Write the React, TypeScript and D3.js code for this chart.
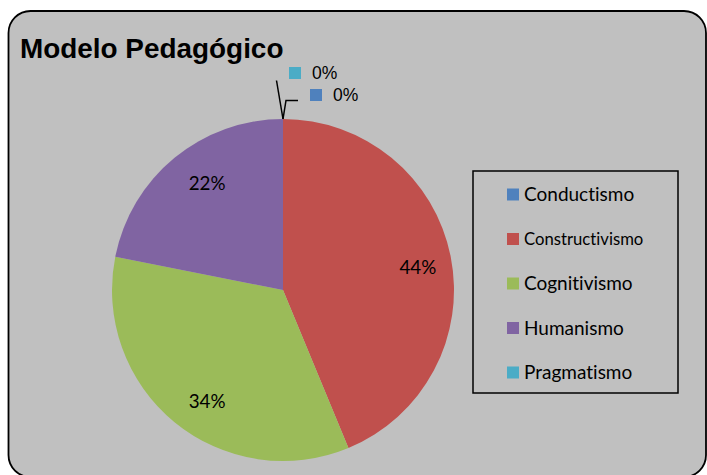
import React from "react";
import * as d3 from "d3";

const categories = ["Conductismo", "Constructivismo", "Cognitivismo", "Humanismo", "Pragmatismo"];
const counts = [0, 14, 11, 7, 0];
const colors = ["#4F81BD", "#C0504D", "#9BBB59", "#8064A2", "#4BACC6"];
const title = "Modelo Pedagógico";
const legendFontSizes = [19, 16.7, 19, 19, 19];

const W = 707;
const H = 475;
const cx = 283;
const cy = 290;
const R = 171;

export default function App() {
  const total = d3.sum(counts);
  const pie = d3.pie<number>().sort(null).value((d) => d)(counts);
  const arc = d3.arc<d3.PieArcDatum<number>>().innerRadius(0).outerRadius(R);
  const labelArc = d3.arc<d3.PieArcDatum<number>>().innerRadius(R * 0.81).outerRadius(R * 0.81);
  const fmt = (v: number) => `${Math.round((v / total) * 100)}%`;

  const zeroLabels = pie
    .map((p, i) => ({ p, i }))
    .filter(({ p }) => p.value === 0);

  const legendX = 473;
  const legendY = 171;
  const legendW = 205;
  const legendH = 222;
  const rowY = d3.scalePoint<string>().domain(categories).range([legendY + 23.5, legendY + 201.5]);
  const noLig = { fontVariantLigatures: "none" as const, fontFeatureSettings: '"liga" 0, "clig" 0' };

  return (
    <svg
      width={W}
      height={H}
      style={{ position: "absolute", left: 0, top: 0, background: "#ffffff" }}
    >
      <rect x={8.5} y={11} width={697.5} height={466} rx={22} ry={22} fill="#C0C0C0" stroke="#000" strokeWidth={1.8} />
      <text x={20} y={57.5} fontFamily="Liberation Sans, Arial, sans-serif" fontWeight="bold" fontSize={27.9} fill="#000">
        {title}
      </text>
      <g transform={`translate(${cx},${cy})`}>
        {pie.map((p, i) => (
          <path key={i} d={arc(p) || ""} fill={colors[i]} />
        ))}
        {pie.map((p, i) => {
          if (p.value === 0) return null;
          const [x, y] = labelArc.centroid(p);
          const dx = x < 0 ? 12 : -1;
          const dy = x > 0 ? 4 : y > 0 ? 4 : 0;
          return (
            <text
              key={"l" + i}
              x={x + dx}
              y={y + dy}
              dy="0.35em"
              textAnchor="middle"
              fontFamily="Lato, sans-serif"
              fontSize={18.8}
              fill="#000"
            >
              {fmt(p.value)}
            </text>
          );
        })}
        {zeroLabels.map(({ p, i }) => {
          const ang = p.startAngle;
          const ox = Math.sin(ang) * R;
          const oy = -Math.cos(ang) * R;
          const isLast = i === categories.length - 1;
          const d = isLast
            ? `M${ox},${oy} L${ox - 6.5},${oy - 38.5}`
            : `M${ox},${oy} L${ox + 3},${oy - 18.5} L${ox + 15},${oy - 18.5}`;
          const sqX = isLast ? ox + 6 : ox + 27;
          const sqY = isLast ? oy - 52 : oy - 30;
          return (
            <g key={"z" + i}>
              <path d={d} fill="none" stroke="#000" strokeWidth={1.5} />
              <rect x={sqX} y={sqY} width={12} height={12} fill={colors[i]} />
              <text
                x={sqX + 23}
                y={sqY + 6}
                dy="0.36em"
                fontFamily="Liberation Sans, Arial, sans-serif"
                fontSize={17.5}
                fill="#000"
              >
                {fmt(p.value)}
              </text>
            </g>
          );
        })}
      </g>
      <rect x={legendX} y={legendY} width={legendW} height={legendH} fill="none" stroke="#000" strokeWidth={1.5} />
      {categories.map((c, i) => {
        const y = rowY(c) as number;
        return (
          <g key={"lg" + i}>
            <rect x={507} y={y - 6} width={12} height={12} fill={colors[i]} />
            <text
              x={524}
              y={y}
              dy="0.36em"
              fontFamily="Lato, sans-serif"
              fontSize={legendFontSizes[i]}
              fill="#000"
              style={noLig}
            >
              {c}
            </text>
          </g>
        );
      })}
    </svg>
  );
}
